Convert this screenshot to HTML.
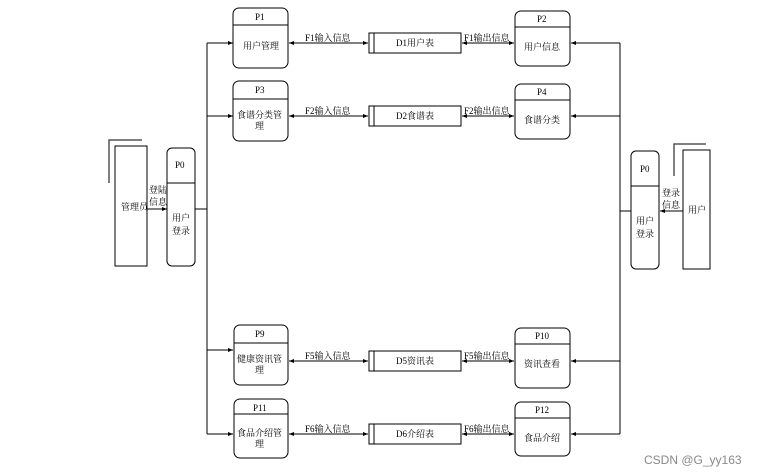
<!DOCTYPE html>
<html><head><meta charset="utf-8"><style>
html,body{margin:0;padding:0;background:#fff;width:757px;height:476px;overflow:hidden}
svg text{font-family:"Liberation Serif","Noto Serif CJK SC","Noto Sans CJK SC",serif;font-size:9px;fill:#000}
</style></head><body>
<svg width="757" height="476" viewBox="0 0 757 476" xmlns="http://www.w3.org/2000/svg">
<defs>
<marker id="a" markerWidth="6" markerHeight="6" refX="5" refY="3" orient="auto" markerUnits="userSpaceOnUse"><path d="M0,1 L5,3 L0,5 z" fill="#000"/></marker>
<marker id="s" markerWidth="6" markerHeight="6" refX="0" refY="3" orient="auto" markerUnits="userSpaceOnUse"><path d="M5,1 L0,3 L5,5 z" fill="#000"/></marker>
</defs>
<g fill="none" stroke="#000" stroke-width="1">
<!-- left entity -->
<polyline points="109,183 109,140 142,140" stroke="#555" stroke-width="1.5"/>
<rect x="115" y="146" width="32" height="120"/>
<line x1="147" y1="209" x2="167" y2="209" marker-end="url(#a)"/>
<rect x="167" y="148" width="28" height="118" rx="5"/>
<line x1="167" y1="183" x2="195" y2="183"/>
<line x1="195" y1="209" x2="207" y2="209"/>
<line x1="207" y1="43" x2="207" y2="434"/>
<line x1="207" y1="43" x2="233" y2="43" marker-end="url(#a)"/>
<line x1="207" y1="116" x2="233" y2="116" marker-end="url(#a)"/>
<line x1="207" y1="350" x2="233" y2="350" marker-end="url(#a)"/>
<line x1="207" y1="434" x2="233" y2="434" marker-end="url(#a)"/>
<!-- left processes -->
<rect x="233" y="8" width="55" height="60" rx="6"/><line x1="233" y1="25" x2="288" y2="25"/>
<rect x="233" y="81" width="55" height="60" rx="6"/><line x1="233" y1="99" x2="288" y2="99"/>
<rect x="234" y="325" width="54" height="60" rx="6"/><line x1="234" y1="343" x2="288" y2="343"/>
<rect x="234" y="399" width="54" height="59" rx="6"/><line x1="234" y1="414" x2="288" y2="414"/>
<!-- stores -->
<rect x="369" y="33" width="92" height="20"/><line x1="374" y1="33" x2="374" y2="53"/>
<rect x="369" y="106" width="92" height="20"/><line x1="374" y1="106" x2="374" y2="126"/>
<rect x="369" y="351" width="92" height="20"/><line x1="374" y1="351" x2="374" y2="371"/>
<rect x="369" y="424" width="92" height="20"/><line x1="374" y1="424" x2="374" y2="444"/>
<!-- flows -->
<line x1="289" y1="43" x2="368" y2="43" marker-start="url(#s)" marker-end="url(#a)"/>
<line x1="289" y1="116" x2="368" y2="116" marker-start="url(#s)" marker-end="url(#a)"/>
<line x1="289" y1="361" x2="368" y2="361" marker-start="url(#s)" marker-end="url(#a)"/>
<line x1="289" y1="434" x2="368" y2="434" marker-start="url(#s)" marker-end="url(#a)"/>
<line x1="462" y1="43" x2="514" y2="43" marker-start="url(#s)" marker-end="url(#a)"/>
<line x1="462" y1="116" x2="514" y2="116" marker-start="url(#s)" marker-end="url(#a)"/>
<line x1="462" y1="361" x2="514" y2="361" marker-start="url(#s)" marker-end="url(#a)"/>
<line x1="462" y1="434" x2="514" y2="434" marker-start="url(#s)" marker-end="url(#a)"/>
<!-- right processes -->
<rect x="515" y="11" width="55" height="55" rx="6"/><line x1="515" y1="27" x2="570" y2="27"/>
<rect x="515" y="84" width="55" height="55" rx="6"/><line x1="515" y1="100" x2="570" y2="100"/>
<rect x="515" y="328" width="55" height="60" rx="6"/><line x1="515" y1="344" x2="570" y2="344"/>
<rect x="515" y="402" width="55" height="54" rx="6"/><line x1="515" y1="418" x2="570" y2="418"/>
<!-- right bus -->
<line x1="620" y1="43" x2="620" y2="434"/>
<line x1="620" y1="43" x2="571" y2="43" marker-end="url(#a)"/>
<line x1="620" y1="116" x2="571" y2="116" marker-end="url(#a)"/>
<line x1="620" y1="361" x2="571" y2="361" marker-end="url(#a)"/>
<line x1="620" y1="434" x2="571" y2="434" marker-end="url(#a)"/>
<line x1="620" y1="211" x2="631" y2="211"/>
<rect x="631" y="151" width="28" height="118" rx="5"/>
<line x1="631" y1="186" x2="659" y2="186"/>
<line x1="683" y1="211" x2="660" y2="211" marker-end="url(#a)"/>
<rect x="683" y="150" width="27" height="119"/>
<polyline points="674,176 674,144 706,144" stroke="#555" stroke-width="1.5"/>
</g>
<text x="121" y="210">管理员</text>
<text x="149" y="193">登陆</text><text x="149" y="205">信息</text>
<text x="175" y="168">P0</text>
<text x="172" y="221">用户</text><text x="172" y="234">登录</text>
<text x="255" y="20">P1</text><text x="243" y="49">用户管理</text>
<text x="255" y="93">P3</text><text x="237" y="118">食谱分类管</text><text x="255" y="129">理</text>
<text x="255" y="337">P9</text><text x="237" y="362">健康资讯管</text><text x="255" y="373">理</text>
<text x="253" y="411">P11</text><text x="237" y="436">食品介绍管</text><text x="255" y="447">理</text>
<text x="305" y="41">F1输入信息</text><text x="305" y="114">F2输入信息</text>
<text x="305" y="359">F5输入信息</text><text x="305" y="432">F6输入信息</text>
<text x="396" y="46">D1用户表</text><text x="396" y="119">D2食谱表</text>
<text x="396" y="364">D5资讯表</text><text x="396" y="437">D6介绍表</text>
<text x="464" y="41">F1输出信息</text><text x="464" y="114">F2输出信息</text>
<text x="464" y="359">F5输出信息</text><text x="464" y="432">F6输出信息</text>
<text x="537" y="22">P2</text><text x="524" y="50">用户信息</text>
<text x="537" y="95">P4</text><text x="524" y="123">食谱分类</text>
<text x="535" y="339">P10</text><text x="524" y="367">资讯查看</text>
<text x="535" y="413">P12</text><text x="524" y="441">食品介绍</text>
<text x="640" y="172">P0</text>
<text x="636" y="224">用户</text><text x="636" y="237">登录</text>
<text x="662" y="196">登录</text><text x="662" y="208">信息</text>
<text x="688" y="213">用户</text>
<text x="644" y="464" style="font-family:'Liberation Sans',sans-serif;font-size:12px;fill:#888">CSDN @G_yy163</text>
</svg>
</body></html>
